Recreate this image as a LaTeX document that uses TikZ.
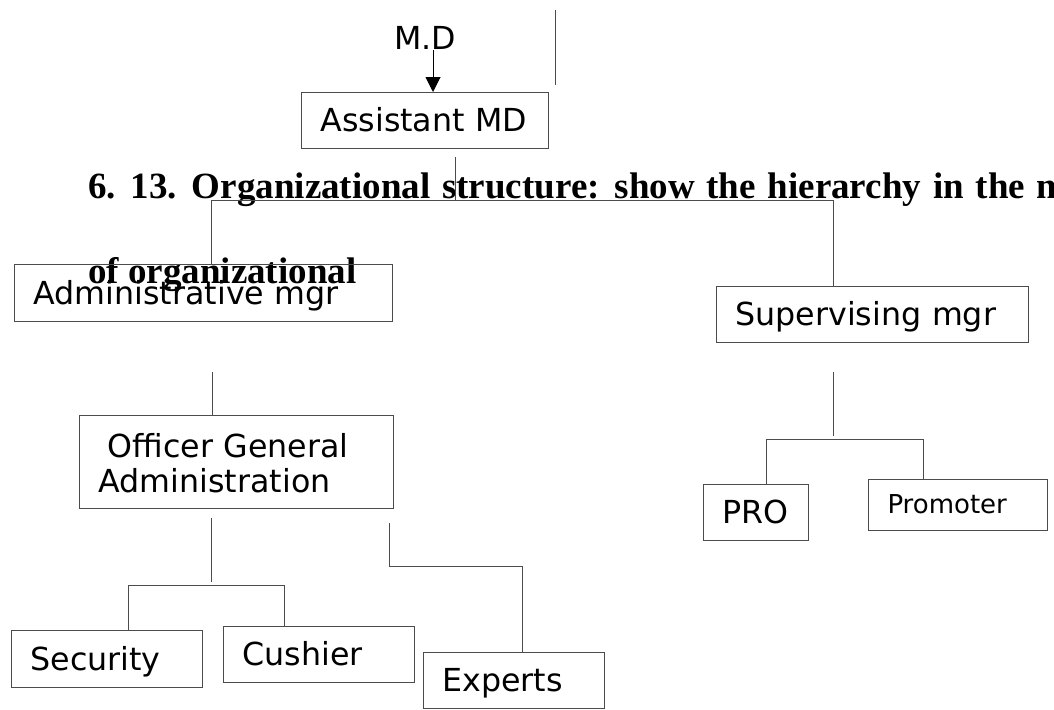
\documentclass[tikz,border=0pt]{standalone}
\usepackage{fontspec}
\setmainfont{Liberation Serif}
\newfontfamily\dejavu{DejaVu Sans}
\usetikzlibrary{arrows.meta}

\newcommand{\boxfont}{\dejavu\fontsize{31.7}{35}\selectfont}
\newcommand{\titlefont}{\bfseries\fontsize{37}{46}\selectfont}
\newcommand{\titlewide}{\titlefont\spaceskip=11.8pt\relax}

\tikzset{
  orgbox/.style 2 args={draw=black!70, line width=1pt, anchor=north west,
    inner xsep=19pt, inner ysep=0pt, align=left, font=\boxfont,
    text height=22pt, text depth=0pt,
    minimum width=#1pt, text width=#1pt-38pt, minimum height=#2pt},
  conn/.style={draw=black!70, line width=1pt},
}

\begin{document}
\begin{tikzpicture}[x=1pt, y=-1pt]
    \useasboundingbox (0,0) rectangle (1054,709);
    \clip (0,0) rectangle (1054,709);

    % Titolo
    \node[anchor=base west, inner sep=0pt, font=\titlewide] (title) at (88,198)
        {6. 13. Organizational structure: show the hierarchy in the m};
    \node[anchor=base west, inner sep=0pt, font=\titlefont] (title_cont) at (88,283)
        {of organizational};

    % Vertice
    \node[anchor=base, inner sep=0pt, font=\boxfont] (md) at (425,50) {M.D};
    \node[orgbox={247}{56}] (asst) at (301,92) {Assistant MD};

    % Responsabili
    \node[orgbox={378}{57}] (adm) at (14,264) {Administrative mgr};
    \node[orgbox={312}{56}] (sup) at (716,286) {Supervising mgr};

    % Amministrazione
    \node[orgbox={314}{93}, text height=26pt, text depth=35pt] (off) at (79,415)
        {\hspace{9pt}Officer General\\Administration};
    \node[orgbox={191}{57}] (sec) at (11,630) {Security};
    \node[orgbox={191}{56}] (cus) at (223,626) {Cushier};
    \node[orgbox={181}{56}] (exp) at (423,652) {Experts};

    % Supervisione
    \node[orgbox={105}{56}] (pro) at (703,484) {PRO};
    \node[orgbox={179}{51}, font=\dejavu\fontsize{26}{30}\selectfont, text height=17pt] (prom) at (868,479) {Promoter};

    % Punti di raccordo
    \coordinate (mark_top) at (555,10);
    \coordinate (mark_bot) at (555,85);
    \coordinate (asst_stem) at (455,157);
    \coordinate (bar_l) at (211,200);
    \coordinate (bar_r) at (833,200);
    \coordinate (adm_stem) at (212,372);
    \coordinate (off_stem) at (211,518);
    \coordinate (off_end) at (211,582);
    \coordinate (sec_bar) at (128,585);
    \coordinate (cus_bar) at (284,585);
    \coordinate (exp_stem) at (389,523);
    \coordinate (exp_bend) at (389,566);
    \coordinate (sup_stem) at (833,372);
    \coordinate (sup_end) at (833,436);
    \coordinate (pro_bar) at (766,439);
    \coordinate (prom_bar) at (923,439);

    % Collegamenti
    \draw[-{Triangle[width=15pt,length=15pt]}, line width=1pt] ([xshift=8pt]md.south) -- ([xshift=8pt]asst.north);
    \draw[conn] (mark_top) -- (mark_bot);
    \draw[conn] (asst_stem) -- (asst_stem |- bar_l);
    \draw[conn] (bar_l |- adm.north) -- (bar_l) -- (bar_r) -- (bar_r |- sup.north);
    \draw[conn] (adm_stem) -- (adm_stem |- off.north);
    \draw[conn] (off_stem) -- (off_end);
    \draw[conn] (sec_bar |- sec.north) -- (sec_bar) -- (cus_bar) -- (cus_bar |- cus.north);
    \draw[conn] (exp_stem) -- (exp_bend) -| ([xshift=8.5pt]exp.north);
    \draw[conn] (sup_stem) -- (sup_end);
    \draw[conn] (pro_bar |- pro.north) -- (pro_bar) -- (prom_bar) -- (prom_bar |- prom.north);
\end{tikzpicture}
\end{document}
